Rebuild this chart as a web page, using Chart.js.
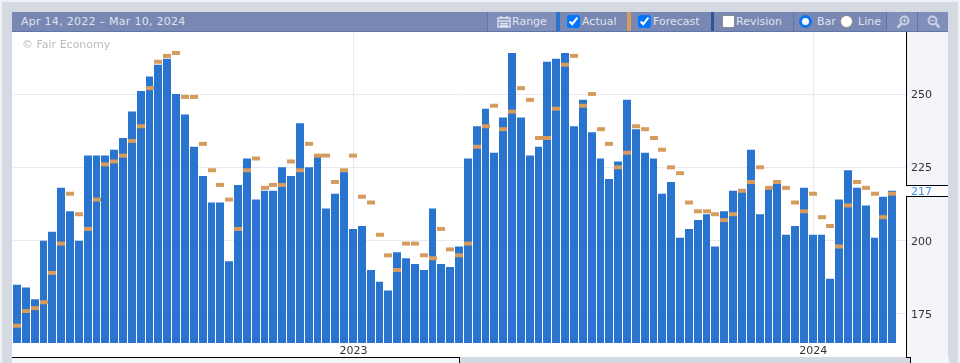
<!DOCTYPE html>
<html>
<head>
<meta charset="utf-8">
<title>Calendar history</title>
<script src="https://cdn.jsdelivr.net/npm/chart.js@4"></script>
<style>
    html, body { margin: 0; padding: 0; background: #eef0f4; overflow: hidden; }
    body, .cell { font: 11px "DejaVu Sans", sans-serif; }
    .abs { position: absolute; }
    #page { left: 2px; top: 2px; width: 956px; height: 361px; background: #d5d9e2; }
    #header { left: 12px; top: 12px; width: 936px; height: 19px; background: #7888b3; border-bottom: 1px solid #5f76a8; }
    #range { left: 21px; top: 12px; height: 19px; line-height: 19px; color: #dfe3ee; letter-spacing: 0.27px; }
    .cell { top: 12px; height: 19px; line-height: 19px; background: #7f8fb9; color: #dfe3ee; white-space: nowrap; }
    .sep { top: 12px; height: 19px; }
    .label { top: 12px; height: 19px; line-height: 19px; color: #dfe3ee; }
    .box { top: 15px; width: 13px; height: 13px; border-radius: 2px; background: #fff; box-sizing: border-box; border: 1px solid #8a8a8a; }
    .dot { top: 15px; width: 13px; height: 13px; border-radius: 50%; background: #fff; box-sizing: border-box; border: 1px solid #8a8a8a; }
    .dot.on { border: 3px solid #0b76f0; }
    #wrap { left: 12px; top: 32px; width: 936px; height: 325px; background: #fff; }
    #copy { left: 22px; top: 38px; color: #bcbcbc; }
    #footLeft { left: 12px; top: 357px; width: 447px; height: 6px; background: #f3f5fa; border-top: 1px solid #000; border-right: 1px solid #000; }
    #footRight { left: 910px; top: 357px; width: 38px; height: 6px; background: #f3f5fa; border-left: 1px solid #000; }
    #footTick { left: 906px; top: 357px; width: 4px; height: 1px; background: #000; }
</style>
</head>
<body>
<div class="abs" id="page"></div>
<div class="abs" id="header"></div>
<div class="abs" id="range">Apr 14, 2022 – Mar 10, 2024</div>

<div class="abs sep" style="left:487px;width:1px;background:#5f76a8"></div>
<div class="abs cell" style="left:488px;width:68px"></div>
<svg class="abs" style="left:497px;top:15px" width="14" height="13" viewBox="0 0 14 13">
    <path d="M1 3h12v9H1zM1 6h12M4 1v3M10 1v3M3 8.5h8M3 10.5h8" fill="none" stroke="#dfe3ee" stroke-width="1.3"/>
</svg>
<div class="abs label" style="left:512px">Range</div>
<div class="abs sep" style="left:556px;width:4px;background:#2874ce"></div>

<input type="checkbox" checked class="abs" style="left:567px;top:15px;width:13px;height:13px;margin:0">
<div class="abs label" style="left:582px">Actual</div>
<div class="abs sep" style="left:627px;width:4px;background:#d69c5e"></div>

<input type="checkbox" checked class="abs" style="left:638px;top:15px;width:13px;height:13px;margin:0">
<div class="abs label" style="left:653px">Forecast</div>
<div class="abs sep" style="left:711px;width:3px;background:#2f5597"></div>

<div class="abs box" style="left:722px"></div>
<div class="abs label" style="left:736px">Revision</div>
<div class="abs sep" style="left:793px;width:1px;background:#5f76a8"></div>

<div class="abs dot on" style="left:799px"></div>
<div class="abs label" style="left:817px">Bar</div>
<div class="abs dot" style="left:840px"></div>
<div class="abs label" style="left:858px">Line</div>
<div class="abs sep" style="left:886px;width:1px;background:#5f76a8"></div>

<div class="abs cell" style="left:887px;width:30px"></div>
<svg class="abs" style="left:896px;top:15px" width="14" height="14" viewBox="0 0 14 14">
    <circle cx="8.5" cy="5.5" r="4" fill="none" stroke="#c9d0e2" stroke-width="2"/>
    <path d="M5.5 8.5L1.5 12.5" stroke="#c9d0e2" stroke-width="2.5"/>
    <path d="M6.5 5.5h4M8.5 3.5v4" stroke="#c9d0e2" stroke-width="1"/>
</svg>
<div class="abs sep" style="left:917px;width:1px;background:#5f76a8"></div>
<div class="abs cell" style="left:918px;width:30px"></div>
<svg class="abs" style="left:927px;top:15px" width="14" height="14" viewBox="0 0 14 14">
    <circle cx="5.5" cy="5.5" r="4" fill="none" stroke="#c9d0e2" stroke-width="2"/>
    <path d="M8.5 8.5L12.5 12.5" stroke="#c9d0e2" stroke-width="2.5"/>
    <path d="M3.5 5.5h4" stroke="#c9d0e2" stroke-width="1"/>
</svg>

<div class="abs" id="wrap"><canvas id="historyChart" width="936" height="325"></canvas></div>
<div class="abs" id="copy">© Fair Economy</div>
<div class="abs" id="footLeft"></div>
<div class="abs" id="footRight"></div>
<div class="abs" id="footTick"></div>

<script>
const weeks = [
    '2022-04-14','2022-04-21','2022-04-28','2022-05-05','2022-05-12','2022-05-19','2022-05-26','2022-06-02','2022-06-09','2022-06-16',
    '2022-06-23','2022-06-30','2022-07-07','2022-07-14','2022-07-21','2022-07-28','2022-08-04','2022-08-11','2022-08-18','2022-08-25',
    '2022-09-01','2022-09-08','2022-09-15','2022-09-22','2022-09-29','2022-10-06','2022-10-13','2022-10-20','2022-10-27','2022-11-03',
    '2022-11-10','2022-11-17','2022-11-24','2022-12-01','2022-12-08','2022-12-15','2022-12-22','2022-12-29','2023-01-05','2023-01-12',
    '2023-01-19','2023-01-26','2023-02-02','2023-02-09','2023-02-16','2023-02-23','2023-03-02','2023-03-09','2023-03-16','2023-03-23',
    '2023-03-30','2023-04-06','2023-04-13','2023-04-20','2023-04-27','2023-05-04','2023-05-11','2023-05-18','2023-05-25','2023-06-01',
    '2023-06-08','2023-06-15','2023-06-22','2023-06-29','2023-07-06','2023-07-13','2023-07-20','2023-07-27','2023-08-03','2023-08-10',
    '2023-08-17','2023-08-24','2023-08-31','2023-09-07','2023-09-14','2023-09-21','2023-09-28','2023-10-05','2023-10-12','2023-10-19',
    '2023-10-26','2023-11-02','2023-11-09','2023-11-16','2023-11-23','2023-11-30','2023-12-07','2023-12-14','2023-12-21','2023-12-28',
    '2024-01-04','2024-01-11','2024-01-18','2024-01-25','2024-02-01','2024-02-08','2024-02-15','2024-02-22','2024-02-29','2024-03-07'
];
const actual = [
    185,184,180,200,203,218,210,200,229,229,
    229,231,235,244,251,256,260,262,250,243,
    232,222,213,213,193,219,228,214,217,217,
    225,222,240,225,229,211,216,224,204,205,
    190,186,183,196,194,192,190,211,192,191,
    198,228,239,245,230,242,264,242,229,232,
    261,262,264,239,248,237,228,221,227,248,
    238,230,228,216,220,201,204,207,209,198,
    210,217,217,231,209,218,220,202,205,218,
    202,202,187,214,224,218,212,201,215,217
];
const forecast = [
    171,176,177,179,189,199,216,209,204,214,
    226,227,229,234,239,252,261,263,264,249,
    249,233,224,219,214,204,224,228,218,219,
    219,227,224,233,229,229,220,224,229,215,
    213,202,195,190,199,199,195,194,204,197,
    195,199,232,239,246,238,244,252,248,235,
    235,245,260,263,246,250,238,233,225,230,
    239,238,235,231,225,223,213,210,210,209,
    207,209,217,220,225,218,220,218,213,210,
    216,208,205,198,212,220,218,216,208,216
];
const yearIndexes = [38, 90];
const yearLabels = ['2023', '2024'];
const valueTicks = [175, 200, 225, 250];
const currentValue = 217;

document.addEventListener('DOMContentLoaded', () => {
    const font = { family: '"DejaVu Sans", sans-serif', size: 11 };

    // right axis panel, black rule and the flag with the latest value
    const axisPanel = {
        id: 'axisPanel',
        beforeDraw(chart) {
            const c = chart.ctx, area = chart.chartArea;
            c.save();
            c.fillStyle = '#f3f5fa';
            c.fillRect(area.right, 0, chart.width - area.right, chart.height);
            c.restore();
        },
        afterDraw(chart) {
            const c = chart.ctx, area = chart.chartArea;
            const y = Math.round(chart.scales.y.getPixelForValue(currentValue));
            c.save();
            c.fillStyle = '#fff';
            c.fillRect(area.right, y - 6, chart.width - area.right, 11);
            c.fillStyle = '#000';
            c.fillRect(area.right, 0, 1, y - 6);
            c.fillRect(area.right, y + 5, 1, chart.height - y - 5);
            c.fillRect(area.right, y - 6, chart.width - area.right, 1);
            c.fillRect(area.right, y + 5, chart.width - area.right, 1);
            c.fillStyle = '#3f8fe0';
            c.font = '11px "DejaVu Sans", sans-serif';
            c.textBaseline = 'middle';
            c.fillText(String(currentValue), area.right + 5, y + 1);
            c.restore();
        }
    };

    // snap bars and forecast ticks to whole pixels so the 1px gaps stay white
    const snapBars = {
        id: 'snapBars',
        beforeDatasetsDraw(chart) {
            const x = chart.scales.x;
            const step = x.getPixelForValue(1) - x.getPixelForValue(0);
            chart.getDatasetMeta(1).data.forEach(bar => {
                const left = Math.round(bar.x - step / 2);
                const right = Math.round(bar.x + step / 2) - 1;
                bar.x = (left + right) / 2;
                bar.width = right - left;
            });
            chart.getDatasetMeta(0).data.forEach(point => {
                point.x = Math.round(point.x - step / 2) + 4;
            });
        }
    };

    new Chart(document.getElementById('historyChart').getContext('2d'), {
        data: {
            // one empty slot at the end leaves the gap before the axis
            labels: [...weeks, ''],
            datasets: [{
                type: 'line',
                label: 'Forecast',
                data: forecast,
                order: 1,
                showLine: false,
                pointStyle: 'line',
                pointRadius: 4,
                pointBorderWidth: 4,
                pointBorderColor: '#d69c5e'
            }, {
                type: 'bar',
                label: 'Actual',
                data: actual,
                order: 2,
                backgroundColor: '#2874ce',
                barThickness: 8,
                inflateAmount: 0
            }]
        },
        options: {
            responsive: false,
            animation: false,
            layout: { autoPadding: false, padding: { left: 1 } },
            plugins: {
                legend: { display: false },
                tooltip: { enabled: false }
            },
            scales: {
                x: {
                    afterBuildTicks: axis => { axis.ticks = yearIndexes.map(i => ({ value: i })); },
                    afterFit: axis => {
                        axis.height = 14;
                        axis.paddingLeft = 0;
                        axis.paddingRight = 0;
                    },
                    grid: { color: '#e8eaf3', offset: false, drawTicks: false },
                    border: { display: false },
                    ticks: {
                        autoSkip: false,
                        maxRotation: 0,
                        padding: 2,
                        color: '#333',
                        font: font,
                        callback: value => yearLabels[yearIndexes.indexOf(value)]
                    }
                },
                y: {
                    position: 'right',
                    min: 165.1,
                    max: 271.14,
                    afterBuildTicks: axis => { axis.ticks = valueTicks.map(v => ({ value: v })); },
                    afterFit: axis => {
                        axis.width = 42;
                        axis.paddingTop = 0;
                        axis.paddingBottom = 0;
                    },
                    grid: { color: '#e8eaf3', drawTicks: false },
                    border: { display: false },
                    ticks: { padding: 5, labelOffset: 1, color: '#333', font: font }
                }
            }
        },
        plugins: [axisPanel, snapBars]
    });
});
</script>
</body>
</html>
